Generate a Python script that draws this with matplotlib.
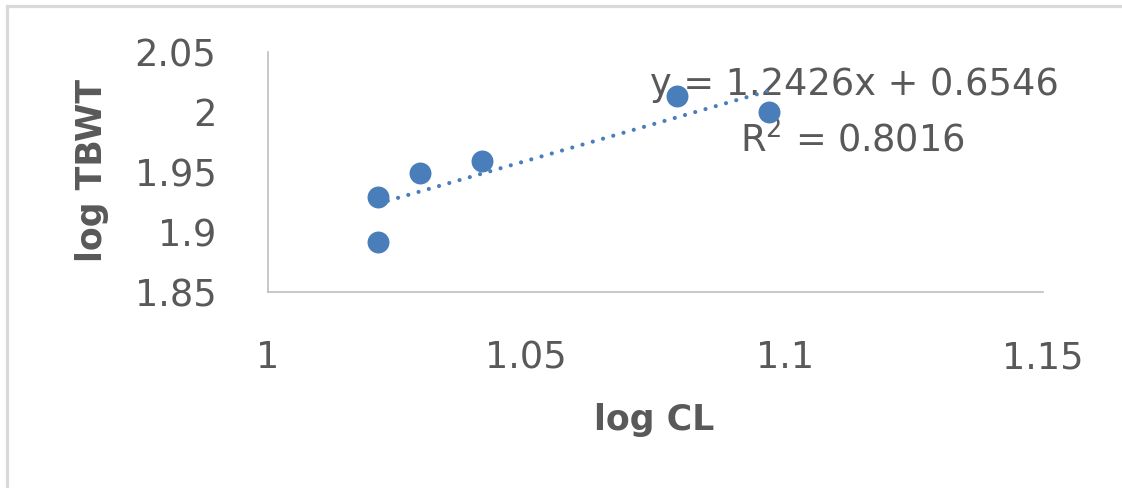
import matplotlib
matplotlib.use("Agg")
import matplotlib.pyplot as plt
from matplotlib.lines import Line2D
import numpy as np

# Data
log_cl = [1.0212, 1.0212, 1.0294, 1.0414, 1.0792, 1.0969]
log_tbwt = [1.929, 1.892, 1.949, 1.959, 2.013, 2.000]
slope = 1.2426
intercept = 0.6546
r2 = 0.8016
x_ticks = [1.0, 1.05, 1.1, 1.15]
x_tick_labels = ["1", "1.05", "1.1", "1.15"]
y_ticks = [1.85, 1.9, 1.95, 2.0, 2.05]
y_tick_labels = ["1.85", "1.9", "1.95", "2", "2.05"]

plt.rcParams['font.family'] = ['DejaVu Sans']

W, H = 1122, 488
fig = plt.figure(figsize=(W / 100, H / 100), dpi=100)
ax = fig.add_axes([268 / W, 1 - 292 / H, (1043 - 268) / W, (292 - 52) / H])

blue = '#4A7EBB'
gray_text = '#595959'

xl = np.array([min(log_cl), max(log_cl)])
ax.plot(xl, slope * xl + intercept, color=blue, lw=3.0,
        linestyle=(0, (0.01, 2.55)), dash_capstyle='round', zorder=2)
ax.plot(log_cl, log_tbwt, 'o', color=blue, ms=15.8, mec='none', zorder=3)

ax.set_xlim(1.0, 1.15)
ax.set_ylim(1.85, 2.05)
ax.set_xticks(x_ticks)
ax.set_xticklabels(x_tick_labels)
ax.set_yticks(y_ticks)
ax.set_yticklabels(y_tick_labels)
ax.tick_params(axis='both', length=0, labelsize=26.5, labelcolor=gray_text)
ax.tick_params(axis='x', pad=34)
ax.tick_params(axis='y', pad=37)
for s in ['top', 'right']:
    ax.spines[s].set_visible(False)
for s in ['left', 'bottom']:
    ax.spines[s].set_color('#BFBFBF')
    ax.spines[s].set_linewidth(1.2)

fig.text(92 / W, 1 - 170 / H, "log TBWT", rotation=90, ha='center', va='center',
         fontsize=25, fontweight='bold', color=gray_text)
fig.text(654 / W, 1 - 420 / H, "log CL", ha='center', va='center',
         fontsize=25, fontweight='bold', color=gray_text)

# trendline label drawn beneath the markers, as in the reference
ax.text(854 / W, 1 - 95 / H, "y = 1.2426x + 0.6546", ha='center', va='baseline',
        fontsize=26.5, color=gray_text, transform=fig.transFigure, zorder=1, clip_on=False)
ax.text(852 / W, 1 - 152 / H, "R$^2$ = 0.8016", ha='center', va='baseline',
        fontsize=26.5, color=gray_text, transform=fig.transFigure, zorder=1, clip_on=False)

# outer chart border (top and left visible in the reference crop)
fig.lines.append(Line2D([6.5 / W, 1.0], [1 - 5.5 / H, 1 - 5.5 / H], transform=fig.transFigure,
                        color='#D9D9D9', lw=2.3))
fig.lines.append(Line2D([6.5 / W, 6.5 / W], [0.0, 1 - 5.5 / H], transform=fig.transFigure,
                        color='#D9D9D9', lw=2.3))

fig.savefig("out.png", dpi=100)
